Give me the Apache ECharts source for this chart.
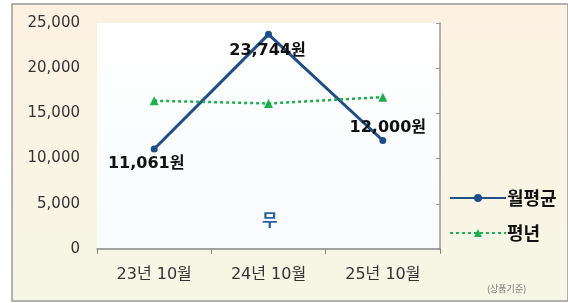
<!DOCTYPE html>
<html>
<head>
<meta charset="utf-8">
<script src="https://cdn.jsdelivr.net/npm/echarts@6/dist/echarts.min.js"></script>
<style>
  html, body { margin: 0; padding: 0; background: #fff; }
  #chart { width: 568px; height: 303px; }
</style>
</head>
<body>
<div id="chart"></div>
<script>
// 데이터
var categories = ['23년 10월', '24년 10월', '25년 10월']
var monthAvg = [11061, 23744, 12000]   // 월평균
var normalYear = [16400, 16100, 16800] // 평년
var yTicks = [0, 5000, 10000, 15000, 20000, 25000]

var fontKR = '"Noto Sans CJK KR", "Noto Sans", sans-serif'
var fontNum = '"DejaVu Sans", "Noto Sans CJK KR", sans-serif'

function fmt(v) {
  return String(v).replace(/\B(?=(\d{3})+(?!\d))/g, ',')
}

var chart = echarts.init(document.getElementById('chart'))
chart.setOption({
  animation: false,
  textStyle: { fontFamily: fontKR },
  // 바깥 배경 + 테두리
  graphic: [
    {
      type: 'rect',
      z: -10,
      shape: { x: 12, y: 4, width: 556, height: 297 },
      style: {
        fill: new echarts.graphic.LinearGradient(0, 0, 0, 1, [
          { offset: 0, color: '#fdf1e2' },
          { offset: 1, color: '#f6f7e6' }
        ]),
        stroke: '#9a9a9a',
        lineWidth: 1.5
      }
    },
    {
      type: 'text',
      left: 262,
      top: 211,
      style: { text: '무', fill: '#2a62a8', font: 'bold 17px ' + fontKR }
    },
    {
      type: 'text',
      left: 487,
      top: 284,
      style: { text: '(상품기준)', fill: '#777', font: '9px ' + fontKR }
    }
  ],
  grid: {
    left: 97,
    right: 128,
    top: 23,
    bottom: 54,
    show: true,
    borderWidth: 0,
    backgroundColor: new echarts.graphic.LinearGradient(0, 0, 0, 1, [
      { offset: 0, color: '#ffffff' },
      { offset: 1, color: '#f8fafc' }
    ])
  },
  legend: {
    orient: 'vertical',
    left: 444,
    top: 184,
    itemWidth: 56,
    itemHeight: 10,
    itemGap: 17,
    textStyle: { fontSize: 18, fontWeight: 'bold', color: '#111', fontFamily: fontKR, padding: [0, 0, 0, -4] },
    data: ['월평균', '평년']
  },
  xAxis: {
    type: 'category',
    data: categories,
    boundaryGap: true,
    axisLine: { lineStyle: { color: '#888', width: 1.5 } },
    axisTick: { show: true, inside: false, length: 5, lineStyle: { color: '#888' } },
    axisLabel: { color: '#333', fontSize: 16, margin: 18, fontFamily: fontNum }
  },
  yAxis: [
    {
      type: 'value',
      min: yTicks[0],
      max: yTicks[yTicks.length - 1],
      interval: 5000,
      axisLine: { show: false },
      axisTick: { show: false },
      splitLine: { show: false },
      axisLabel: { color: '#333', fontSize: 15, margin: 17, fontFamily: fontNum, formatter: fmt }
    },
    {
      type: 'value',
      position: 'right',
      min: yTicks[0],
      max: yTicks[yTicks.length - 1],
      interval: 5000,
      axisLine: { show: true, lineStyle: { color: '#999', width: 1.5 } },
      axisTick: { show: true, inside: true, length: 4, lineStyle: { color: '#999' } },
      splitLine: { show: false },
      axisLabel: { show: false }
    }
  ],
  series: [
    {
      name: '월평균',
      type: 'line',
      data: monthAvg,
      symbol: 'circle',
      symbolSize: 7,
      lineStyle: { color: '#1f4e85', width: 3 },
      itemStyle: { color: '#1f4e85' },
      label: {
        show: true,
        fontSize: 16,
        fontWeight: 'bold',
        color: '#111',
        fontFamily: fontNum,
        formatter: function (p) { return fmt(p.value) + '원' }
      },
      // 라벨 위치: 점 기준 오프셋
      labelLayout: function (p) {
        var offs = [[-8, 15], [-1, 16], [5, -13]]
        var o = offs[p.dataIndex]
        return { x: p.rect.x + p.rect.width / 2 + o[0], y: p.rect.y + p.rect.height / 2 + o[1], align: 'center', verticalAlign: 'middle' }
      }
    },
    {
      name: '평년',
      type: 'line',
      data: normalYear,
      symbol: 'triangle',
      symbolSize: 9,
      lineStyle: { color: '#1fae4f', width: 2.5, type: [3, 3] },
      itemStyle: { color: '#1fae4f' }
    }
  ]
})
</script>
</body>
</html>
